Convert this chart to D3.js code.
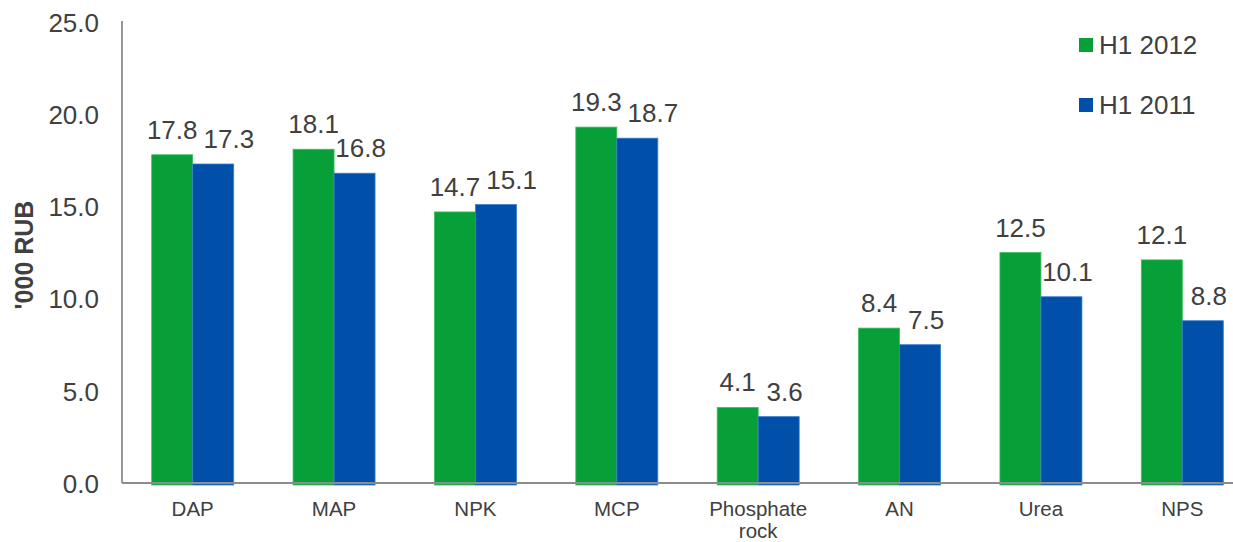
<!DOCTYPE html>
<html>
<head>
<meta charset="utf-8">
<script src="https://cdn.jsdelivr.net/npm/d3@7"></script>
<style>
  html, body { margin: 0; padding: 0; background: #fff; }
  svg { display: block; font-family: "Liberation Sans", Arial, sans-serif; }
</style>
</head>
<body>
<svg id="chart" width="1233" height="542"></svg>
<script>
const categories = ["DAP", "MAP", "NPK", "MCP", "Phosphate rock", "AN", "Urea", "NPS"];
const seriesNames = ["H1 2012", "H1 2011"];
const valuesH12012 = [17.8, 18.1, 14.7, 19.3, 4.1, 8.4, 12.5, 12.1];
const valuesH12011 = [17.3, 16.8, 15.1, 18.7, 3.6, 7.5, 10.1, 8.8];
const yTicks = [0, 5, 10, 15, 20, 25];
const yTitle = "'000 RUB";

(function () {
const series = [valuesH12012, valuesH12011];
const colors = ["#079f37", "#0050a9"];
const edge = ["#3fbf5f", "#3a7fd0"];
const textColor = "#404040";
const axisColor = "#8c8c8c";

const svg = d3.select("#chart");
const mLeft = 122, mRight = 1253, mTop = 22, mBottom = 483;

const x0 = d3.scaleBand().domain(categories).range([mLeft, mRight]).paddingInner(0.42).paddingOuter(0.21);
const x1 = d3.scaleBand().domain(seriesNames).range([0, x0.bandwidth()]);
const y = d3.scaleLinear().domain([0, 25]).range([mBottom, mTop]);

// Bars
const groups = svg.append("g").selectAll("g").data(categories).join("g")
  .attr("transform", d => `translate(${x0(d)},0)`);
seriesNames.forEach((s, si) => {
  groups.append("rect")
    .attr("x", x1(s))
    .attr("width", x1.bandwidth())
    .attr("y", (d, i) => y(series[si][i]))
    .attr("height", (d, i) => y(0) - y(series[si][i]) + 2)
    .attr("fill", colors[si])
    .attr("stroke", edge[si])
    .attr("stroke-width", 0.8);
});

// Axes
const yAxis = d3.axisLeft(y).tickValues(yTicks).tickFormat(d3.format(".1f")).tickSize(0).tickPadding(23);
const gy = svg.append("g").attr("transform", `translate(${mLeft},0)`).call(yAxis);
gy.select(".domain").attr("stroke", axisColor).attr("stroke-width", 1.8).attr("d", `M0,${mTop - 1}V${mBottom}`);
gy.selectAll("text").attr("fill", textColor).style("font-size", "26px").attr("dy", "0.36em");

const xAxis = d3.axisBottom(x0).tickSize(0).tickPadding(0).tickFormat("");
const gx = svg.append("g").attr("transform", `translate(0,${mBottom})`).call(xAxis);
gx.select(".domain").attr("stroke", axisColor).attr("stroke-width", 1.8).attr("d", `M${mLeft},0H1233`);

// Category labels (wrapped)
gx.selectAll(".tick").each(function(d) {
  const words = d.split(" ");
  const t = d3.select(this).append("text")
    .attr("fill", textColor).style("font-size", "20.5px").attr("text-anchor", "middle");
  words.forEach((w, i) => {
    t.append("tspan").attr("x", 0).attr("y", 33 + i * 21.5).text(w);
  });
});

// Value labels
const lblSize = 26, gap = 16;
const labelLayer = svg.append("g").style("font-size", lblSize + "px").attr("fill", textColor).attr("text-anchor", "middle");
categories.forEach((c, i) => {
  const gCx = x0(c) + x1(seriesNames[0]) + x1.bandwidth() / 2;
  const bCx = x0(c) + x1(seriesNames[1]) + x1.bandwidth() / 2;
  const gY = y(valuesH12012[i]) - gap;
  const bY = y(valuesH12011[i]) - gap;
  const gt = labelLayer.append("text").attr("x", gCx).attr("y", gY).text(valuesH12012[i].toFixed(1));
  const bt = labelLayer.append("text").attr("y", bY).text(valuesH12011[i].toFixed(1));
  const gw = gt.node().getComputedTextLength();
  const bw = bt.node().getComputedTextLength();
  let bx = bCx + 6;
  if (Math.abs(gY - bY) < 20) bx = Math.max(bx, gCx + gw / 2 + 6 + bw / 2);
  bt.attr("x", bx);
});

// Y title
svg.append("text")
  .attr("transform", `translate(33,255) rotate(-90)`)
  .attr("text-anchor", "middle")
  .attr("fill", textColor)
  .style("font-size", "25px").style("font-weight", "bold")
  .text(yTitle);

// Legend
const legend = svg.append("g").selectAll("g").data(seriesNames).join("g")
  .attr("transform", (d, i) => `translate(1079,${38 + i * 60})`);
legend.append("rect").attr("width", 14).attr("height", 14).attr("fill", (d, i) => colors[i]);
legend.append("text").attr("x", 20).attr("y", 15.5).attr("fill", textColor)
  .style("font-size", "26px").text(d => d);
})();
</script>
</body>
</html>
